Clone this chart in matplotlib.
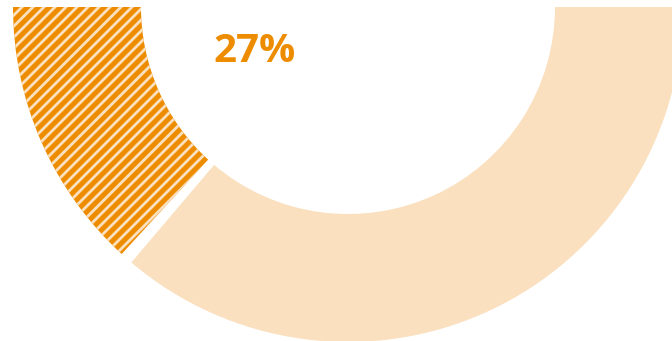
import numpy as np
import matplotlib.pyplot as plt
from matplotlib.patches import Wedge

# dados
categorias = ["Sim", "Não"]
valores = [27, 73]
rotulo = "27%"

COR_FORTE = "#EE8C00"
COR_CLARA = "#FAE0BE"

fig = plt.figure(figsize=(6.72, 3.41), dpi=100)
ax = fig.add_axes([0, 0, 1, 1])
ax.set_xlim(0, 672)
ax.set_ylim(0, 341)
ax.set_aspect("equal")
ax.axis("off")

centro = (348, 334)
r_ext, r_int = 335, 207
gap = 1.1
passo_listra = 11  # espaçamento horizontal das listras (px)

total = sum(valores)
inicio = 180.0
for i, (cat, val) in enumerate(zip(categorias, valores)):
    fim = inicio + 180.0 * val / total
    a0 = inicio + (gap if i > 0 else 0)
    a1 = fim - (gap if i < len(valores) - 1 else 0)
    cor = COR_FORTE if i == 0 else COR_CLARA
    w = Wedge(centro, r_ext, a0, a1, width=r_ext - r_int,
              facecolor=cor, linewidth=0)
    ax.add_patch(w)
    if i == 0:
        # listras diagonais recortadas pelo setor
        for c in np.arange(-700, 700, passo_listra):
            ln, = ax.plot([0, 700], [c, c + 700], color=COR_CLARA,
                          linewidth=2.0, solid_capstyle="butt")
            ln.set_clip_path(w)
    inicio = fim

ax.text(255, 289, rotulo, ha="center", va="center", color=COR_FORTE,
        fontsize=29, fontweight="bold", family="Open Sans")

plt.savefig("out.png", dpi=100)
plt.close()
